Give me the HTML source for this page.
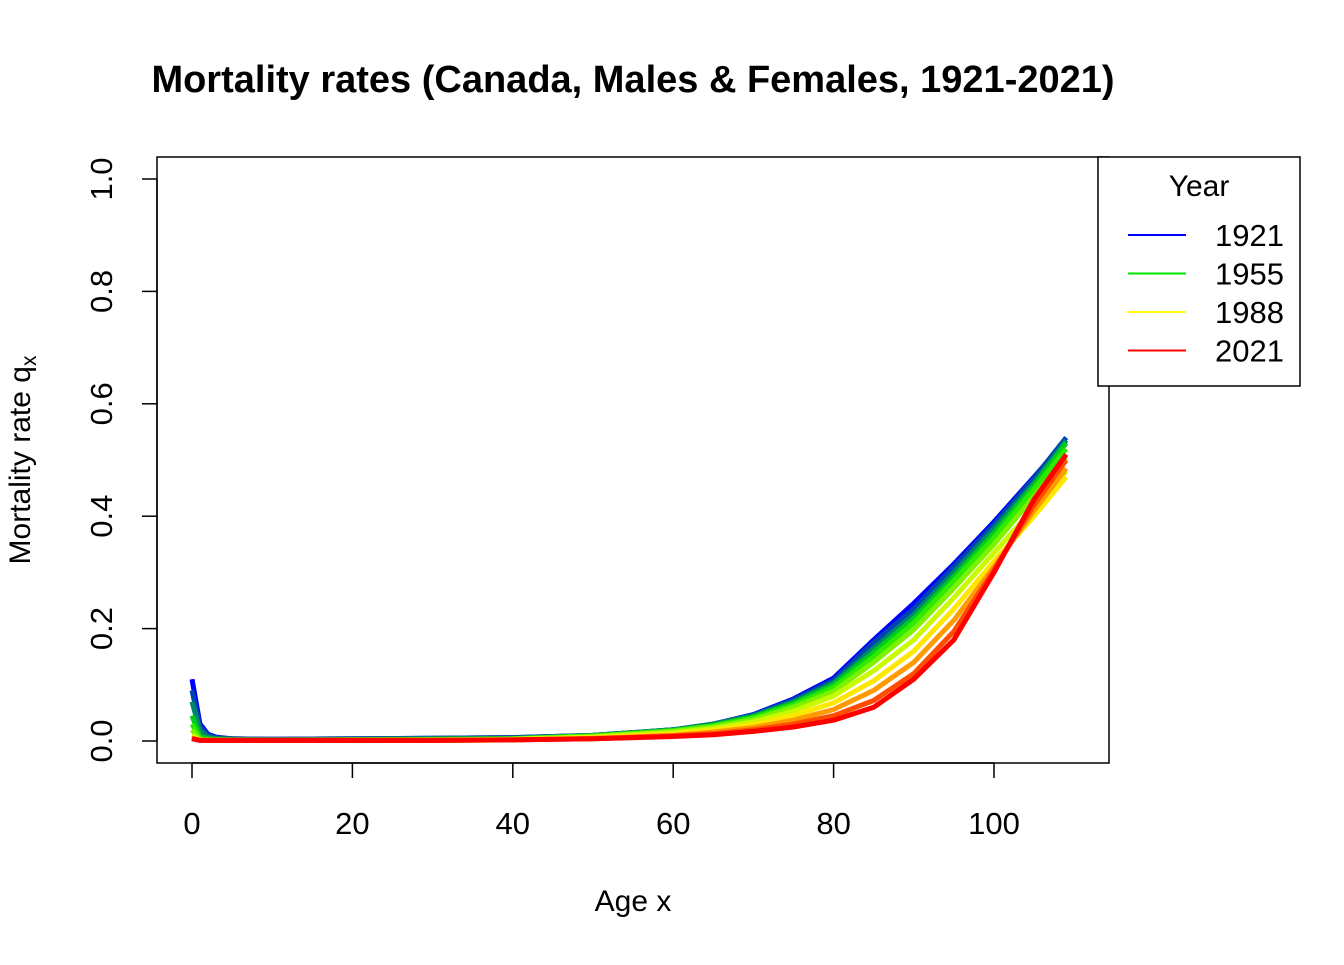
<!DOCTYPE html>
<html><head><meta charset="utf-8"><style>
body{margin:0;background:#fff;font-family:"Liberation Sans",sans-serif}
</style></head><body>
<svg id="chart" width="1344" height="960" xmlns="http://www.w3.org/2000/svg" font-family="Liberation Sans, sans-serif">
<rect width="1344" height="960" fill="#fff"/>
<text x="633" y="92" text-anchor="middle" font-size="38" font-weight="bold">Mortality rates (Canada, Males &amp; Females, 1921-2021)</text>
<rect x="157" y="157" width="952" height="606" fill="none" stroke="#000" stroke-width="1.5"/>
<g id="xaxis"></g>
<g id="yaxis"></g>
<g id="lines"></g>
<text x="633" y="911" text-anchor="middle" font-size="30">Age x</text>
<text transform="translate(30,460) rotate(-90)" text-anchor="middle" font-size="30">Mortality rate q<tspan font-size="21" dy="6">x</tspan></text>
<g>
<rect x="1098" y="157" width="202" height="229" fill="#fff" stroke="#000" stroke-width="1.5"/>
<text x="1199" y="196" text-anchor="middle" font-size="30">Year</text>
<g id="legend-entries"></g>
</g>
</svg>
<script>
const ages=[0,1,2,3,5,10,20,30,40,50,60,65,70,75,80,85,90,95,100,105,109];
const years=[1921,1931,1941,1951,1961,1971,1981,1991,2001,2011,2021];
const q1921=[0.11,0.03,0.012,0.007,0.004,0.003,0.004,0.005,0.006,0.01,0.02,0.03,0.047,0.075,0.112,0.18,0.245,0.315,0.39,0.47,0.535];
const q1931=[0.09,0.025,0.01,0.006,0.004,0.003,0.004,0.005,0.006,0.01,0.02,0.03,0.046,0.073,0.108,0.175,0.235,0.31,0.385,0.468,0.54];
const q1941=[0.07,0.018,0.007,0.004,0.003,0.002,0.003,0.004,0.005,0.01,0.02,0.03,0.045,0.07,0.104,0.165,0.225,0.3,0.378,0.46,0.535];
const q1951=[0.045,0.008,0.004,0.003,0.002,0.001,0.002,0.003,0.004,0.009,0.019,0.028,0.043,0.067,0.1,0.158,0.218,0.292,0.37,0.455,0.53];
const q1961=[0.03,0.004,0.002,0.002,0.001,0.001,0.002,0.002,0.004,0.009,0.018,0.027,0.041,0.064,0.095,0.15,0.21,0.285,0.362,0.448,0.52];
const q1971=[0.02,0.002,0.002,0.001,0.001,0.001,0.002,0.002,0.003,0.008,0.017,0.025,0.038,0.06,0.088,0.14,0.198,0.272,0.35,0.435,0.505];
const q1981=[0.01,0.001,0.001,0.001,0.001,0.001,0.001,0.002,0.003,0.007,0.015,0.022,0.034,0.053,0.08,0.125,0.18,0.255,0.335,0.415,0.48];
const q1991=[0.007,0.001,0.001,0.001,0.001,0.001,0.001,0.001,0.002,0.006,0.012,0.019,0.029,0.045,0.068,0.107,0.16,0.235,0.32,0.4,0.47];
const q2001=[0.005,0.001,0.001,0.001,0.001,0.001,0.001,0.001,0.002,0.005,0.01,0.016,0.024,0.037,0.056,0.09,0.14,0.215,0.31,0.41,0.485];
const q2011=[0.005,0.001,0.001,0.001,0.001,0.001,0.001,0.001,0.002,0.004,0.009,0.013,0.02,0.03,0.045,0.072,0.12,0.195,0.305,0.42,0.5];
const q2021=[0.004,0.001,0.001,0.001,0.001,0.001,0.001,0.001,0.002,0.004,0.008,0.011,0.017,0.025,0.037,0.06,0.11,0.18,0.3,0.43,0.51];
const series=[q1921,q1931,q1941,q1951,q1961,q1971,q1981,q1991,q2001,q2011,q2021];
const xTicks=[0,20,40,60,80,100];
const yTicks=[0,0.2,0.4,0.6,0.8,1.0];
const legendYears=[1921,1955,1988,2021];
const NS="http://www.w3.org/2000/svg";
const sx=a=>192+a*8.02;
const sy=v=>741-v*562;
function yearColor(y){
  const t=(y-1921)/100;
  const stops=[[0,[0,0,255]],[0.34,[0,230,0]],[0.67,[255,255,0]],[1,[255,0,0]]];
  for(let i=0;i<stops.length-1;i++){const [a,ca]=stops[i],[b,cb]=stops[i+1];
    if(t<=b){const f=(t-a)/(b-a);return `rgb(${ca.map((c,k)=>Math.round(c+(cb[k]-c)*f)).join(',')})`;}}
  return 'rgb(255,0,0)';
}
function mk(tag,attrs,parent){const e=document.createElementNS(NS,tag);for(const k in attrs)e.setAttribute(k,attrs[k]);parent.appendChild(e);return e;}
const xa=document.getElementById('xaxis');
mk('line',{x1:sx(0),x2:sx(100),y1:763,y2:763,stroke:'#000','stroke-width':1.5},xa);
xTicks.forEach(t=>{
  const l=mk('line',{x1:sx(t),x2:sx(t),y1:763,y2:778,stroke:'#000','stroke-width':1.5},xa);
  
  
  const tx=mk('text',{x:sx(t),y:834,'text-anchor':'middle','font-size':31},xa);tx.textContent=t;
  
  
});
const ya=document.getElementById('yaxis');
mk('line',{x1:157,x2:157,y1:sy(0),y2:sy(1),stroke:'#000','stroke-width':1.5},ya);
yTicks.forEach(t=>{
  const l=mk('line',{x1:142,x2:157,y1:sy(t),y2:sy(t),stroke:'#000','stroke-width':1.5},ya);
  
  
  const tx=mk('text',{transform:`translate(112,${sy(t)}) rotate(-90)`,'text-anchor':'middle','font-size':31},ya);tx.textContent=t.toFixed(1);
  
  
});
const lg=document.getElementById('lines');
series.forEach((s,i)=>{
  const d=s.map((v,j)=>(j?'L':'M')+sx(ages[j]).toFixed(1)+','+sy(v).toFixed(1)).join(' ');
  const p=mk('path',{d:d,fill:'none',stroke:yearColor(years[i]),'stroke-width':5,'stroke-linejoin':'round'},lg);
  
  
});
const le=document.getElementById('legend-entries');
legendYears.forEach((y,i)=>{
  const yy=235+i*38.5;
  const l=mk('line',{x1:1128,x2:1186,y1:yy,y2:yy,stroke:yearColor(y),'stroke-width':2},le);
  
  
  const t=mk('text',{x:1284,y:yy+11,'text-anchor':'end','font-size':31},le);t.textContent=y;
  
  
});
</script>
</body></html>
